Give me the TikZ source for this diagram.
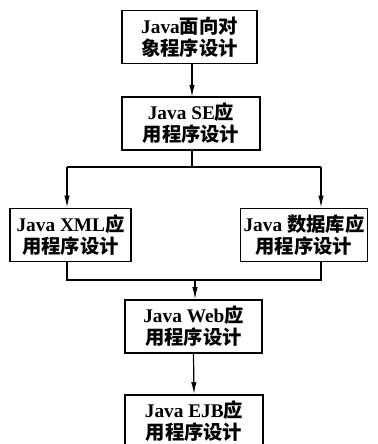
\documentclass[tikz,border=0pt]{standalone}
\usepackage{fontspec}
\setmainfont{Liberation Serif}
\newfontfamily\cjk{Noto Sans CJK SC}
\newcommand{\zh}[1]{{\cjk #1}}
\usetikzlibrary{arrows.meta}

\tikzset{
  course/.style={draw, line width=1.3pt, inner sep=0pt, align=center,
    minimum height=53*0.75pt, font=\fontsize{14.5}{16.5}\selectfont\bfseries},
  link/.style={line width=0.9pt},
  flow/.style={link, -{Latex[length=9pt,width=4pt]}}
}

\begin{document}
\begin{tikzpicture}[x=0.75pt,y=0.75pt,yscale=-1,xscale=1]
\useasboundingbox (0,0) rectangle (378,444);
\clip (0,0) rectangle (378,444);

% course boxes
\node [course, minimum width=135*0.75pt] (oop) at (189.5,37) {Java\zh{面向对}\\\zh{象程序设计}};
\node [course, minimum width=138*0.75pt] (se) at (191,123.5) {Java SE\zh{应}\\\zh{用程序设计}};
\node [course, minimum width=121*0.75pt] (xml) at (70.5,235) {Java XML\zh{应}\\\zh{用程序设计}};
\node [course, minimum width=127*0.75pt] (db) at (304,235) {Java \zh{数据库应}\\\zh{用程序设计}};
\node [course, minimum width=137*0.75pt] (web) at (193.5,326.5) {Java Web\zh{应}\\\zh{用程序设计}};
\node [course, minimum width=138*0.75pt] (ejb) at (194,421.5) {Java EJB\zh{应}\\\zh{用程序设计}};

% split and merge points
\coordinate (split) at (192,167);
\coordinate (sl) at (67,167);
\coordinate (sr) at (321,167);
\coordinate (ml) at (67,280);
\coordinate (mr) at (321,280);
\coordinate (merge) at (195,280);

% connectors
\draw [flow] (192,64) -- (192,97);
\draw [link] (se.south -| split) -- (split);
\draw [link] (sl) -- (sr);
\draw [flow] (sl) -- (sl |- xml.north);
\draw [flow] (sr) -- (sr |- db.north);
\draw [link] (ml |- xml.south) -- (ml) -- (mr) -- (mr |- db.south);
\draw [flow] (merge) -- (merge |- web.north);
\draw [flow] (web.south) -- (ejb.north);
\end{tikzpicture}
\end{document}
